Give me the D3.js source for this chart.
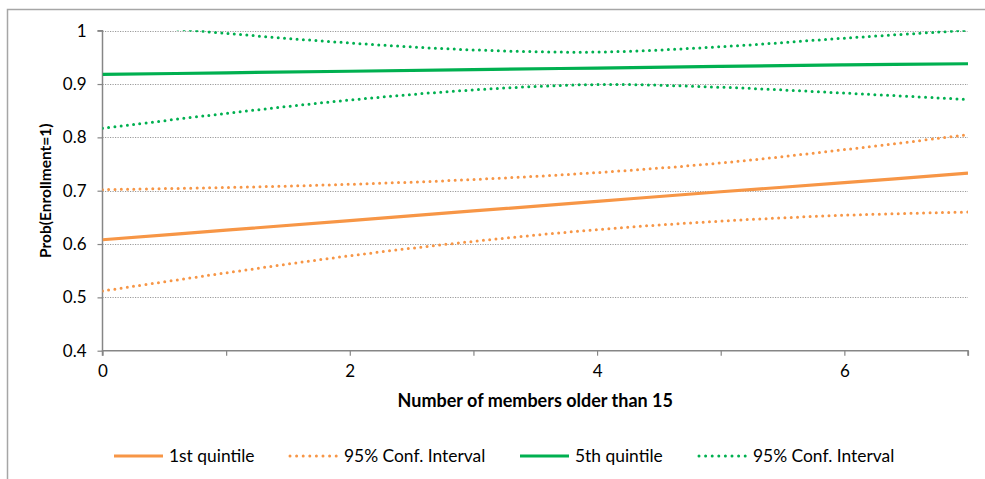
<!DOCTYPE html>
<html><head><meta charset="utf-8">
<script src="https://cdn.jsdelivr.net/npm/d3@7"></script>
<style>
html,body{margin:0;padding:0;background:#fff;}
svg text{font-family:Lato,"Open Sans",sans-serif;fill:#000;}
</style></head>
<body><svg id="c" width="985" height="479"></svg>
<script>
const xValues = [0,1,2,3,4,5,6,7];
const q1 = [0.608,0.626,0.644,0.662,0.680,0.698,0.715,0.733];
const q1Upper = [0.702,0.706,0.712,0.721,0.734,0.752,0.777,0.805];
const q1Lower = [0.512,0.546,0.578,0.605,0.627,0.643,0.654,0.660];
const q5 = [0.918,0.921,0.924,0.927,0.930,0.933,0.936,0.938];
const q5Upper = [1.016,0.995,0.977,0.964,0.960,0.970,0.986,1.001];
const q5Lower = [0.817,0.845,0.870,0.889,0.899,0.894,0.883,0.871];
const yTicks = [0.4,0.5,0.6,0.7,0.8,0.9,1];
const xTickLabels = [0,2,4,6];
const seriesNames = ["1st quintile","95% Conf. Interval","5th quintile","95% Conf. Interval"];
const orange = "#F79646", green = "#00B050";

const svg = d3.select("#c");
const m = {l:102.5, r:968, t:30.7, b:350.7};
const x = d3.scaleLinear().domain([0,7]).range([m.l,m.r]);
const y = d3.scaleLinear().domain([0.4,1]).range([m.b,m.t]);

// outer border
svg.append("path").attr("d",`M7.5,479 L7.5,9.5 L985,9.5`).attr("fill","none").attr("stroke","#A6A6A6").attr("stroke-width",1.5);

// gridlines
svg.append("g").selectAll("line").data(yTicks.filter(d=>d>0.4)).join("line")
  .attr("x1",m.l).attr("x2",m.r).attr("y1",d=>Math.round(y(d))+0.5).attr("y2",d=>Math.round(y(d))+0.5)
  .attr("stroke","#9A9A9A").attr("stroke-width",1).attr("stroke-dasharray","1.2,1.3");

// axes
const yAxis = d3.axisLeft(y).tickValues(yTicks).tickFormat(d=>d===1?"1":d.toFixed(1)).tickSize(5).tickPadding(11);
const gy = svg.append("g").attr("transform",`translate(${m.l},0)`).call(yAxis);
gy.select(".domain").attr("stroke","#868686").attr("stroke-width",1.5).attr("d",`M-5,${m.t}H0V${m.b}`);
gy.selectAll(".tick line").attr("stroke","#868686").attr("stroke-width",1.2);
gy.selectAll(".tick text").attr("font-size",17).attr("font-family","Lato").attr("fill","#000");

const xAxis = d3.axisBottom(x).tickValues(xValues).tickFormat(d=>xTickLabels.includes(d)?String(d):"").tickSize(5).tickPadding(9);
const gx = svg.append("g").attr("transform",`translate(0,${m.b})`).call(xAxis);
gx.select(".domain").attr("stroke","#868686").attr("stroke-width",1.5).attr("d",`M${m.l},5V0H${m.r}V5`);
gx.selectAll(".tick line").attr("stroke","#868686").attr("stroke-width",1.2);
gx.selectAll(".tick text").attr("font-size",17).attr("font-family","Lato").attr("fill","#000");

// titles
svg.append("text").attr("x",(m.l+m.r)/2).attr("y",407).attr("text-anchor","middle")
  .attr("font-size",18).attr("font-weight","bold").text("Number of members older than 15");
svg.append("text").attr("transform",`translate(51,${(m.t+m.b)/2}) rotate(-90)`).attr("text-anchor","middle")
  .attr("font-size",15.5).attr("font-weight","bold").text("Prob(Enrollment=1)");

// clip
svg.append("clipPath").attr("id","pa").append("rect").attr("x",m.l).attr("y",m.t-0.5).attr("width",m.r-m.l).attr("height",m.b-m.t+0.5);

const line = d3.line().x((d,i)=>x(xValues[i])).y(d=>y(d)).curve(d3.curveCatmullRom.alpha(0.5));
const series = [
  {v:q1, c:orange, dash:false},
  {v:q1Upper, c:orange, dash:true},
  {v:q1Lower, c:orange, dash:true},
  {v:q5, c:green, dash:false},
  {v:q5Upper, c:green, dash:true},
  {v:q5Lower, c:green, dash:true},
];
const g = svg.append("g").attr("clip-path","url(#pa)");
series.forEach(s=>{
  const p = g.append("path").attr("d",line(s.v)).attr("fill","none").attr("stroke",s.c);
  if(s.dash) p.attr("stroke-width",3).attr("stroke-dasharray","0,6.3").attr("stroke-linecap","round");
  else p.attr("stroke-width",3.2);
});

// legend
const legend = [
  {name:seriesNames[0], c:orange, dash:false, x:114},
  {name:seriesNames[1], c:orange, dash:true, x:289},
  {name:seriesNames[2], c:green, dash:false, x:520},
  {name:seriesNames[3], c:green, dash:true, x:698},
];
const ly = 456;
legend.forEach(l=>{
  const p = svg.append("line").attr("x1",l.x).attr("x2",l.x+49).attr("y1",ly).attr("y2",ly).attr("stroke",l.c);
  if(l.dash) p.attr("stroke-width",3).attr("stroke-dasharray","0,6.6").attr("stroke-linecap","round").attr("x1",l.x+1);
  else p.attr("stroke-width",3.2);
  svg.append("text").attr("x",l.x+55).attr("y",ly+6).attr("font-size",17.4).text(l.name);
});
</script></body></html>
